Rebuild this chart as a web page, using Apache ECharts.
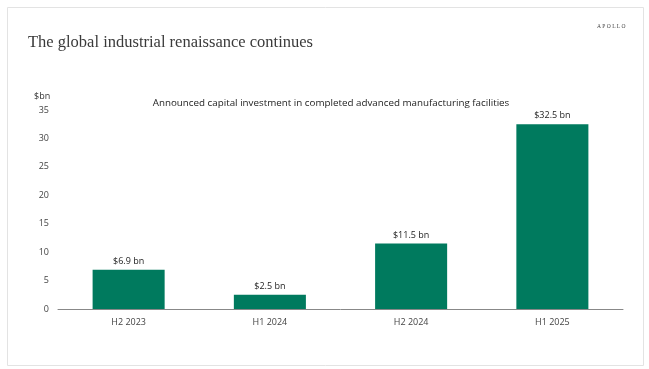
<!DOCTYPE html>
<html><head><meta charset="utf-8">
<script src="https://cdn.jsdelivr.net/npm/echarts@6/dist/echarts.min.js"></script>
<style>html,body{margin:0;padding:0;background:#fff}#c{width:649px;height:369px}</style>
</head><body><div id="c"></div>
<script>
const categories = ['H2 2023', 'H1 2024', 'H2 2024', 'H1 2025'];
const values = [6.9, 2.5, 11.5, 32.5];
const valueLabels = ['$6.9 bn', '$2.5 bn', '$11.5 bn', '$32.5 bn'];
const yTicks = [0, 5, 10, 15, 20, 25, 30, 35];

const chart = echarts.init(document.getElementById('c'), null, {renderer: 'canvas'});
chart.setOption({
  animation: false,
  backgroundColor: '#fff',
  graphic: [
    {type: 'rect', shape: {x: 7.5, y: 7.5, width: 636, height: 358}, style: {fill: 'none', stroke: '#e3e3e3', lineWidth: 1}},
    {type: 'text', left: 28, top: 34, style: {text: 'The global industrial renaissance continues', font: '16.5px "Liberation Serif", serif', fill: '#3a3a3a'}},
    {type: 'text', left: 597, top: 24, style: {text: 'A P O L L O', font: '5.5px "Liberation Serif", serif', fill: '#444'}},
    {type: 'text', left: 34, top: 92, style: {text: '$bn', font: '9px "Open Sans", sans-serif', fill: '#333'}}
  ],
  title: {
    text: 'Announced capital investment in completed advanced manufacturing facilities',
    left: 326, top: 93, textAlign: 'center',
    textStyle: {fontFamily: '"Open Sans", sans-serif', fontSize: 9.8, fontWeight: 'normal', color: '#222'}
  },
  grid: {left: 58, right: 26, top: 110, bottom: 60},
  xAxis: {
    type: 'category', data: categories,
    axisLine: {lineStyle: {color: '#888', width: 1}},
    axisTick: {show: false},
    axisLabel: {color: '#444', fontSize: 9, fontFamily: '"Open Sans", sans-serif', margin: 9}
  },
  yAxis: {
    type: 'value', min: 0, max: 35, interval: 5,
    axisLine: {show: false}, axisTick: {show: false}, splitLine: {show: false},
    axisLabel: {color: '#444', fontSize: 9, fontFamily: '"Open Sans", sans-serif', margin: 9,
      formatter: v => yTicks.includes(v) ? String(v) : ''}
  },
  series: [{
    type: 'bar', data: values, barWidth: '51%',
    itemStyle: {color: '#007a5e'},
    label: {show: true, position: 'top', distance: 4, color: '#222', fontSize: 9,
      fontFamily: '"Open Sans", sans-serif',
      formatter: p => valueLabels[p.dataIndex]}
  }]
});
</script></body></html>
